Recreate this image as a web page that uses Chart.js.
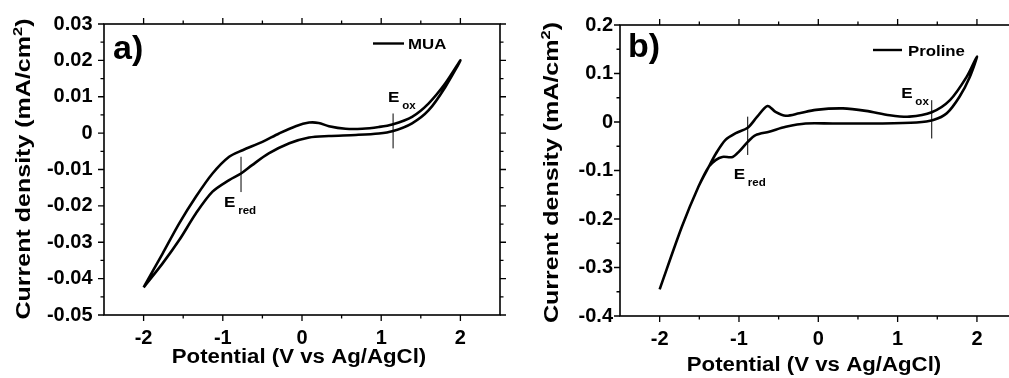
<!DOCTYPE html>
<html>
<head>
<meta charset="utf-8">
<script src="https://cdn.jsdelivr.net/npm/chart.js@4.4.1/dist/chart.umd.min.js"></script>
<style>
  html, body { margin: 0; padding: 0; background: #fff; overflow: hidden; width: 1009px; height: 378px; }
  canvas { position: absolute; top: 0; }
  #cvA { left: 0; }
  #cvB { left: 509px; }
</style>
</head>
<body>
<canvas id="cvA" width="509" height="378"></canvas>
<canvas id="cvB" width="520" height="378"></canvas>
<script>
// ---------- Cyclic voltammograms ----------
// a) MUA: forward scan (-2 V -> +2 V) and reverse scan (+2 V -> -2 V)
const muaFwdV = [-2.00, -1.76, -1.55, -1.34, -1.13, -0.92, -0.77, -0.63, -0.42, -0.16, 0.09, 0.34, 0.68, 0.97, 1.14, 1.39, 1.60, 1.81, 2.00];
const muaFwdJ = [-0.0424, -0.0358, -0.0294, -0.0221, -0.0161, -0.0129, -0.0111, -0.0088, -0.0056, -0.0028, -0.0012, -0.0008, -0.0005, -0.0001, 0.0005, 0.0027, 0.0063, 0.0127, 0.0200];
const muaRevV = [2.00, 1.81, 1.60, 1.39, 1.14, 0.97, 0.76, 0.55, 0.34, 0.21, 0.09, -0.08, -0.29, -0.50, -0.75, -0.92, -1.13, -1.34, -1.55, -1.76, -2.00];
const muaRevJ = [0.0200, 0.0137, 0.0082, 0.0045, 0.0024, 0.0017, 0.0012, 0.0012, 0.0019, 0.0028, 0.0029, 0.0019, -0.0001, -0.0024, -0.0047, -0.0065, -0.0111, -0.0175, -0.0248, -0.0331, -0.0424];

// b) Proline
const proFwdV = [-2.00, -1.72, -1.51, -1.38, -1.29, -1.21, -1.08, -1.00, -0.89, -0.79, -0.62, -0.41, -0.16, 0.18, 0.81, 1.24, 1.45, 1.62, 1.78, 1.91, 2.00];
const proFwdJ = [-0.345, -0.216, -0.133, -0.092, -0.078, -0.072, -0.072, -0.061, -0.041, -0.027, -0.020, -0.010, -0.003, -0.003, -0.003, -0.001, 0.004, 0.018, 0.052, 0.093, 0.135];
const proRevV = [2.00, 1.87, 1.66, 1.43, 1.15, 0.90, 0.60, 0.31, -0.03, -0.24, -0.41, -0.54, -0.64, -0.77, -0.89, -1.04, -1.17, -1.29, -1.38, -1.51, -1.72, -2.00];
const proRevJ = [0.135, 0.093, 0.045, 0.020, 0.011, 0.014, 0.023, 0.028, 0.025, 0.018, 0.013, 0.021, 0.033, 0.011, -0.012, -0.023, -0.037, -0.065, -0.092, -0.133, -0.216, -0.345];

// Reduction / oxidation potentials marked on each voltammogram (V)
const eRedA = -0.77, eOxA = 1.15;
const eRedB = -0.89, eOxB = 1.43;

// ---------- Axes ----------
const xTicks = [-2, -1, 0, 1, 2];
const xTickLabels = ['-2', '-1', '0', '1', '2'];
const xMinor = [-1.5, -0.5, 0.5, 1.5];

const yTicksA = [0.03, 0.02, 0.01, 0, -0.01, -0.02, -0.03, -0.04, -0.05];
const yTickLabelsA = ['0.03', '0.02', '0.01', '0', '-0.01', '-0.02', '-0.03', '-0.04', '-0.05'];
const yMinorA = [0.025, 0.015, 0.005, -0.005, -0.015, -0.025, -0.035, -0.045];

const yTicksB = [0.2, 0.1, 0, -0.1, -0.2, -0.3, -0.4];
const yTickLabelsB = ['0.2', '0.1', '0', '-0.1', '-0.2', '-0.3', '-0.4'];
const yMinorB = [0.15, 0.05, -0.05, -0.15, -0.25, -0.35];

const xTitle = 'Potential (V vs Ag/AgCl)';
const yTitleMain = 'Current density (mA/cm';
const yTitleSup = '2';

const FONT = '"Liberation Sans", Arial, Helvetica, sans-serif';

// joins the two scan directions into one closed loop of {x, y} points
function loop(fv, fj, rv, rj) {
  const pts = fv.map((v, i) => ({ x: v, y: fj[i] }));
  rv.forEach((v, i) => { if (i > 0) pts.push({ x: v, y: rj[i] }); });
  return pts;
}

// draws bold text runs (with optional sub/superscripts), widened along the writing direction
function textRuns(ctx, runs, o) {
  ctx.save();
  ctx.translate(o.x, o.y);
  if (o.rotate) ctx.rotate(o.rotate);
  ctx.scale(o.stretch || 1, 1);
  ctx.fillStyle = '#000';
  ctx.textAlign = 'left';
  ctx.textBaseline = 'alphabetic';
  let total = 0;
  runs.forEach(r => {
    ctx.font = `bold ${r.size}px ${FONT}`;
    r.w = ctx.measureText(r.text).width;
    total += r.w + (r.gap || 0);
  });
  let cx = o.align === 'center' ? -total / 2 : 0;
  runs.forEach(r => {
    ctx.font = `bold ${r.size}px ${FONT}`;
    cx += r.gap || 0;
    ctx.fillText(r.text, cx, -(r.rise || 0));
    cx += r.w;
  });
  ctx.restore();
}

// axis frame with mirrored ticks, potential markers, legend, panel letter and axis titles
const framePlugin = {
  id: 'frame',
  afterDraw(chart, args, o) {
    const { ctx, chartArea: a, scales: { x, y } } = chart;
    ctx.save();
    ctx.strokeStyle = '#000';
    ctx.lineWidth = 1.6;
    ctx.strokeRect(a.left, a.top, a.right - a.left, a.bottom - a.top);

    ctx.lineWidth = 1.3;
    ctx.beginPath();
    const xt = (vals, len) => vals.forEach(v => {
      const p = x.getPixelForValue(v);
      ctx.moveTo(p, a.bottom); ctx.lineTo(p, a.bottom + len);
      ctx.moveTo(p, a.top); ctx.lineTo(p, a.top - len);
    });
    const yt = (vals, len) => vals.forEach(v => {
      const p = y.getPixelForValue(v);
      ctx.moveTo(a.left, p); ctx.lineTo(a.left - len, p);
      ctx.moveTo(a.right, p); ctx.lineTo(a.right + len, p);
    });
    xt(o.xMajor, 6); xt(o.xMinor, 3.5);
    yt(o.yMajor, 6); yt(o.yMinor, 3.5);
    ctx.stroke();

    // E_red / E_ox markers
    ctx.lineWidth = 1;
    ctx.beginPath();
    o.markers.forEach(m => {
      const p = x.getPixelForValue(m.v);
      ctx.moveTo(p, y.getPixelForValue(m.top));
      ctx.lineTo(p, y.getPixelForValue(m.bottom));
    });
    ctx.stroke();
    o.markers.forEach(m => {
      textRuns(ctx, [
        { text: 'E', size: 15.5 },
        { text: m.sub, size: 10.5, rise: -7, gap: 2.5 }
      ], { x: x.getPixelForValue(m.v) + m.dx, y: m.ly, stretch: 1.1 });
    });

    // legend
    const L = o.legend;
    ctx.lineWidth = 2.4;
    ctx.beginPath();
    ctx.moveTo(L.x0, L.y); ctx.lineTo(L.x1, L.y);
    ctx.stroke();
    textRuns(ctx, [{ text: chart.data.datasets[0].label, size: 15 }], { x: L.tx, y: L.y + 5.5, stretch: 1.12 });

    // panel letter
    textRuns(ctx, [{ text: o.letter.text, size: 34 }], { x: o.letter.x, y: o.letter.y });

    // axis titles
    textRuns(ctx, [{ text: xTitle, size: 19.5 }], { x: o.xTitle.x, y: o.xTitle.y, align: 'center', stretch: 1.14 });
    textRuns(ctx, [
      { text: yTitleMain, size: 20.5 },
      { text: yTitleSup, size: 13.5, rise: 8.5 },
      { text: ')', size: 20.5 }
    ], { x: o.yTitle.x, y: o.yTitle.y, align: 'center', stretch: 1.22, rotate: -Math.PI / 2 });
    ctx.restore();
  }
};

function makePanel(id, p) {
  return new Chart(document.getElementById(id), {
    type: 'scatter',
    data: {
      datasets: [{
        label: p.label,
        data: p.points,
        showLine: true,
        borderColor: '#000',
        borderWidth: 2.6,
        pointRadius: 0,
        tension: 0.3,
        fill: false
      }]
    },
    options: {
      responsive: false,
      animation: false,
      devicePixelRatio: 1,
      layout: { padding: { left: 0, top: p.padTop, right: p.padRight, bottom: 0 } },
      plugins: {
        legend: { display: false },
        tooltip: { enabled: false },
        frame: p.frame
      },
      scales: {
        x: {
          type: 'linear', min: -2.5, max: 2.5,
          grid: { display: false, drawTicks: false },
          border: { display: false },
          afterBuildTicks: s => { s.ticks = xTicks.map(v => ({ value: v })); },
          afterFit: s => { s.height = p.xAxisH; },
          ticks: {
            autoSkip: false, maxRotation: 0, padding: 11, color: '#000',
            font: { family: FONT, size: 20, weight: 'bold' },
            callback: (v, i) => xTickLabels[i]
          }
        },
        y: {
          type: 'linear', min: p.yMin, max: p.yMax,
          grid: { display: false, drawTicks: false },
          border: { display: false },
          afterBuildTicks: s => { s.ticks = p.yTicks.map(v => ({ value: v })); },
          afterFit: s => { s.width = p.yAxisW; },
          ticks: {
            autoSkip: false, padding: p.yTickPad, color: '#000',
            font: { family: FONT, size: 20, weight: 'bold' },
            callback: (v, i) => p.yTickLabels[i]
          }
        }
      }
    },
    plugins: [framePlugin]
  });
}

makePanel('cvA', {
  label: 'MUA',
  points: loop(muaFwdV, muaFwdJ, muaRevV, muaRevJ),
  yMin: -0.05, yMax: 0.03, yTicks: yTicksA, yTickLabels: yTickLabelsA,
  padTop: 24, padRight: 9, yAxisW: 104, xAxisH: 63, yTickPad: 11.5,
  frame: {
    xMajor: xTicks, xMinor: xMinor, yMajor: yTicksA, yMinor: yMinorA,
    markers: [
      { v: eRedA, top: -0.0065, bottom: -0.0162, sub: 'red', dx: -17, ly: 207 },
      { v: eOxA, top: 0.0054, bottom: -0.0042, sub: 'ox', dx: -5, ly: 101.5 }
    ],
    legend: { x0: 373, x1: 404, y: 43.5, tx: 408 },
    letter: { text: 'a)', x: 113, y: 59 },
    xTitle: { x: 299, y: 363 },
    yTitle: { x: 30, y: 169 }
  }
});

makePanel('cvB', {
  label: 'Proline',
  points: loop(proFwdV, proFwdJ, proRevV, proRevJ),
  yMin: -0.4, yMax: 0.2, yTicks: yTicksB, yTickLabels: yTickLabelsB,
  padTop: 25, padRight: 12.4, yAxisW: 111, xAxisH: 62, yTickPad: 7,
  frame: {
    xMajor: xTicks, xMinor: xMinor, yMajor: yTicksB, yMinor: yMinorB,
    markers: [
      { v: eRedB, top: 0.011, bottom: -0.068, sub: 'red', dx: -14, ly: 178.5 },
      { v: eOxB, top: 0.045, bottom: -0.034, sub: 'ox', dx: -30.5, ly: 97.5 }
    ],
    legend: { x0: 364, x1: 393, y: 50, tx: 399 },
    letter: { text: 'b)', x: 119, y: 57 },
    xTitle: { x: 305, y: 371 },
    yTitle: { x: 49, y: 172.5 }
  }
});
</script>
</body>
</html>
